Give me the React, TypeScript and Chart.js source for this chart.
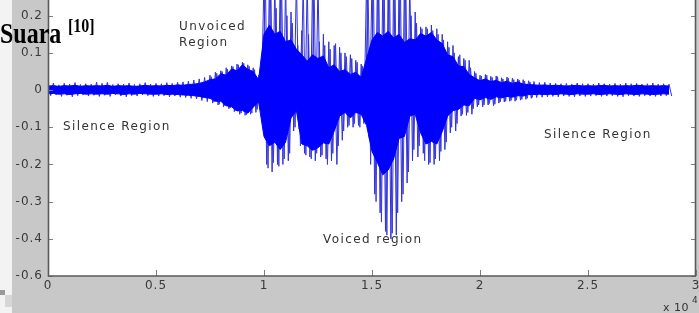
import React, { useEffect, useRef } from "react";
import { Chart, registerables } from "chart.js";

Chart.register(...registerables);

// envelope columns, one every 250 samples
const SAMPLE_STEP = 250;
// extra spike columns inside the speech burst, starting at this sample
const BURST_START = 7500;

const coreHi = [
  0.011, 0.012, 0.010, 0.012, 0.011, 0.013, 0.010, 0.012, 0.011, 0.012,
  0.011, 0.013, 0.010, 0.012, 0.011, 0.012, 0.010, 0.011, 0.013, 0.011,
  0.012, 0.011, 0.013, 0.012, 0.014, 0.013, 0.015, 0.016, 0.018, 0.022,
  0.028, 0.030, 0.044, 0.040, 0.057, 0.052, 0.068, 0.056, 0.050, 0.028,
  0.150, 0.175, 0.150, 0.158, 0.130, 0.135, 0.110, 0.095, 0.078, 0.095,
  0.085, 0.092, 0.060, 0.068, 0.050, 0.055, 0.042, 0.048, 0.034, 0.085,
  0.135, 0.155, 0.145, 0.158, 0.140, 0.150, 0.128, 0.138, 0.135, 0.152,
  0.145, 0.155, 0.135, 0.125, 0.095, 0.090, 0.065, 0.063, 0.042, 0.033,
  0.025, 0.030, 0.023, 0.026, 0.020, 0.024, 0.018, 0.022, 0.016, 0.015,
  0.014, 0.013, 0.014, 0.012, 0.013, 0.012, 0.011, 0.012, 0.013, 0.011,
  0.012, 0.011, 0.012, 0.013, 0.011, 0.012, 0.011, 0.012, 0.011, 0.013,
  0.012, 0.011, 0.012, 0.011, 0.012, 0.011,
];

const coreLo = [
  -0.010, -0.009, -0.011, -0.010, -0.012, -0.010, -0.009, -0.011, -0.010, -0.011,
  -0.010, -0.011, -0.009, -0.010, -0.012, -0.010, -0.011, -0.009, -0.010, -0.011,
  -0.011, -0.010, -0.012, -0.011, -0.012, -0.013, -0.014, -0.015, -0.017, -0.020,
  -0.022, -0.030, -0.030, -0.042, -0.045, -0.056, -0.055, -0.062, -0.046, -0.032,
  -0.125, -0.150, -0.140, -0.160, -0.140, -0.075, -0.055, -0.145, -0.150, -0.162,
  -0.155, -0.142, -0.145, -0.110, -0.070, -0.060, -0.075, -0.060, -0.065, -0.095,
  -0.165, -0.195, -0.228, -0.215, -0.185, -0.130, -0.125, -0.070, -0.065, -0.115,
  -0.145, -0.138, -0.145, -0.112, -0.070, -0.055, -0.052, -0.040, -0.042, -0.022,
  -0.026, -0.020, -0.025, -0.018, -0.021, -0.017, -0.019, -0.015, -0.016, -0.012,
  -0.012, -0.011, -0.012, -0.011, -0.012, -0.010, -0.011, -0.012, -0.010, -0.011,
  -0.011, -0.010, -0.012, -0.011, -0.010, -0.011, -0.012, -0.010, -0.011, -0.012,
  -0.010, -0.011, -0.012, -0.011, -0.010, -0.011,
];

const spikeHi = [
  0.016, 0.019, 0.014, 0.018, 0.016, 0.020, 0.015, 0.017, 0.016, 0.021,
  0.018, 0.021, 0.015, 0.017, 0.016, 0.019, 0.015, 0.017, 0.020, 0.016,
  0.018, 0.017, 0.020, 0.018, 0.021, 0.022, 0.024, 0.027, 0.030, 0.034,
  0.040, 0.048, 0.052, 0.060, 0.065, 0.070, 0.075, 0.068, 0.060, 0.040,
  0.300, 0.300, 0.300, 0.300, 0.300, 0.210, 0.300, 0.160, 0.300, 0.300,
  0.300, 0.150, 0.130, 0.120, 0.115, 0.100, 0.095, 0.080, 0.070, 0.300,
  0.300, 0.300, 0.300, 0.300, 0.300, 0.300, 0.300, 0.300, 0.210, 0.170,
  0.170, 0.175, 0.165, 0.150, 0.130, 0.120, 0.090, 0.085, 0.080, 0.050,
  0.040, 0.042, 0.037, 0.038, 0.033, 0.035, 0.032, 0.030, 0.028, 0.025,
  0.023, 0.020, 0.021, 0.019, 0.018, 0.017, 0.018, 0.016, 0.019, 0.017,
  0.017, 0.016, 0.019, 0.017, 0.016, 0.018, 0.016, 0.019, 0.017, 0.018,
  0.016, 0.017, 0.019, 0.016, 0.017, 0.016,
];

const spikeLo = [
  -0.015, -0.013, -0.017, -0.014, -0.018, -0.015, -0.013, -0.016, -0.014, -0.017,
  -0.014, -0.017, -0.013, -0.016, -0.018, -0.015, -0.016, -0.013, -0.015, -0.017,
  -0.016, -0.015, -0.018, -0.016, -0.019, -0.020, -0.022, -0.024, -0.028, -0.031,
  -0.035, -0.040, -0.045, -0.050, -0.058, -0.065, -0.068, -0.065, -0.060, -0.042,
  -0.200, -0.220, -0.200, -0.200, -0.190, -0.110, -0.105, -0.170, -0.180, -0.190,
  -0.180, -0.185, -0.190, -0.200, -0.135, -0.100, -0.100, -0.095, -0.090, -0.130,
  -0.280, -0.330, -0.380, -0.400, -0.390, -0.300, -0.250, -0.190, -0.180, -0.170,
  -0.200, -0.200, -0.190, -0.160, -0.115, -0.110, -0.070, -0.068, -0.065, -0.045,
  -0.045, -0.040, -0.042, -0.035, -0.032, -0.030, -0.030, -0.027, -0.025, -0.022,
  -0.020, -0.019, -0.018, -0.017, -0.018, -0.016, -0.017, -0.018, -0.016, -0.017,
  -0.016, -0.015, -0.017, -0.016, -0.015, -0.017, -0.018, -0.015, -0.016, -0.017,
  -0.015, -0.016, -0.017, -0.016, -0.015, -0.016,
];

const burstHi = [
  0.036, 0.045, 0.050, 0.056, 0.063, 0.068, 0.072, 0.064, 0.055, 0.035,
  0.300, 0.300, 0.220, 0.300, 0.200, 0.180, 0.120, 0.300, 0.150, 0.300,
  0.130, 0.120, 0.110, 0.125, 0.100, 0.090, 0.085, 0.075, 0.065, 0.300,
  0.300, 0.300, 0.300, 0.300, 0.300, 0.300, 0.300, 0.200, 0.180, 0.165,
  0.165, 0.160, 0.150, 0.135, 0.115, 0.100, 0.095, 0.080, 0.060, 0.045,
  0.038, 0.040, 0.034, 0.036, 0.030, 0.032, 0.028, 0.027, 0.024, 0.022,
];

const burstLo = [
  -0.032, -0.038, -0.042, -0.048, -0.055, -0.062, -0.066, -0.062, -0.052, -0.038,
  -0.210, -0.195, -0.205, -0.185, -0.170, -0.100, -0.150, -0.175, -0.185, -0.170,
  -0.175, -0.200, -0.170, -0.150, -0.110, -0.095, -0.090, -0.100, -0.085, -0.200,
  -0.300, -0.355, -0.390, -0.385, -0.330, -0.280, -0.220, -0.160, -0.150, -0.190,
  -0.195, -0.185, -0.165, -0.140, -0.100, -0.090, -0.065, -0.060, -0.050, -0.040,
  -0.040, -0.036, -0.038, -0.032, -0.030, -0.028, -0.027, -0.025, -0.022, -0.020,
];

const xTickValues = [0, 5000, 10000, 15000, 20000, 25000, 30000];
const xTickLabels = ["0", "0.5", "1", "1.5", "2", "2.5", "3"];
const yTickValues = [-0.5, -0.4, -0.3, -0.2, -0.1, 0, 0.1, 0.2];
const yTickLabels = ["-0.6", "-0.4", "-0.3", "-0.2", "-0.1", "0", "0.1", "0.2"];

const regionLabels = [
  { text: "Unvoiced", x: 6065, y: 0.169 },
  { text: "Region", x: 6065, y: 0.126 },
  { text: "Silence Region", x: 694, y: -0.1 },
  { text: "Silence Region", x: 22963, y: -0.121 },
  { text: "Voiced region", x: 12731, y: -0.404 },
];

const decorPlugin = {
  id: "decor",
  beforeDraw(chart: any) {
    const { ctx, chartArea: a } = chart;
    ctx.save();
    ctx.fillStyle = "#ffffff";
    ctx.fillRect(a.left, a.top, a.right - a.left, a.bottom - a.top);
    ctx.restore();
    (ctx as any).letterSpacing = "1px";
  },
  afterDraw(chart: any) {
    const { ctx, chartArea: a } = chart;
    const xs = chart.scales.x;
    const ys = chart.scales.y;
    ctx.save();
    // inward tick marks
    ctx.strokeStyle = "#808080";
    ctx.lineWidth = 1;
    ctx.beginPath();
    yTickValues.forEach((v) => {
      const py = Math.round(ys.getPixelForValue(v)) + 0.5;
      ctx.moveTo(a.left, py);
      ctx.lineTo(a.left + 5, py);
      ctx.moveTo(a.right - 5, py);
      ctx.lineTo(a.right, py);
    });
    xTickValues.forEach((v) => {
      const px = Math.round(xs.getPixelForValue(v)) + 0.5;
      ctx.moveTo(px, a.bottom);
      ctx.lineTo(px, a.bottom - 6);
    });
    ctx.stroke();
    // frame
    ctx.strokeStyle = "#5a5a5a";
    ctx.lineWidth = 1.6;
    ctx.beginPath();
    ctx.moveTo(a.left + 0.5, a.top);
    ctx.lineTo(a.left + 0.5, a.bottom);
    ctx.lineTo(a.right, a.bottom);
    ctx.moveTo(a.right - 0.5, a.top);
    ctx.lineTo(a.right - 0.5, a.bottom);
    ctx.stroke();

    // region annotations
    (ctx as any).letterSpacing = "1.4px";
    ctx.fillStyle = "#333333";
    ctx.font = '12px "DejaVu Sans"';
    ctx.textAlign = "left";
    ctx.textBaseline = "middle";
    regionLabels.forEach((r) => {
      ctx.fillText(r.text, xs.getPixelForValue(r.x), ys.getPixelForValue(r.y));
    });

    // exponent label
    (ctx as any).letterSpacing = "0.5px";
    ctx.fillStyle = "#333333";
    ctx.textBaseline = "alphabetic";
    ctx.font = '11px "DejaVu Sans"';
    ctx.fillText("x 10", 663, 311);
    ctx.font = '9px "DejaVu Sans"';
    ctx.fillText("4", 692, 303);

    // title fragment
    (ctx as any).letterSpacing = "0px";
    ctx.fillStyle = "#000000";
    ctx.save();
    ctx.translate(0, 43);
    ctx.scale(1, 1.2);
    ctx.font = 'bold 24px "Liberation Serif"';
    ctx.fillText("Suara", 0, 0);
    ctx.restore();
    ctx.save();
    ctx.translate(68, 32);
    ctx.scale(1, 1.2);
    ctx.font = 'bold 16px "Liberation Serif"';
    ctx.fillText("[10]", 0, 0);
    ctx.restore();
    ctx.restore();
  },
};

export default function App() {
  const canvasRef = useRef<HTMLCanvasElement | null>(null);

  useEffect(() => {
    const canvas = canvasRef.current;
    if (!canvas) return;

    const coreHiPts = coreHi.map((v, i) => ({ x: i * SAMPLE_STEP, y: v }));
    const coreLoPts = coreLo.map((v, i) => ({ x: i * SAMPLE_STEP, y: v }));
    const spikePts: { x: number; y: number }[] = [];
    spikeHi.forEach((v, i) => {
      spikePts.push({ x: i * SAMPLE_STEP, y: v });
      spikePts.push({ x: i * SAMPLE_STEP + SAMPLE_STEP / 2, y: spikeLo[i] });
    });
    const burstPts: { x: number; y: number }[] = [];
    burstHi.forEach((v, i) => {
      burstPts.push({ x: BURST_START + i * SAMPLE_STEP + SAMPLE_STEP / 4, y: v });
      burstPts.push({ x: BURST_START + i * SAMPLE_STEP + (3 * SAMPLE_STEP) / 4, y: burstLo[i] });
    });

    const chart = new Chart(canvas, {
      type: "line",
      data: {
        datasets: [
          {
            data: coreHiPts,
            borderColor: "#0000ff",
            backgroundColor: "#0000ff",
            borderWidth: 1,
            pointRadius: 0,
            tension: 0,
            fill: "+1",
          },
          {
            data: coreLoPts,
            borderColor: "#0000ff",
            backgroundColor: "#0000ff",
            borderWidth: 1,
            pointRadius: 0,
            tension: 0,
            fill: false,
          },
          {
            data: spikePts,
            borderColor: "#3030e0",
            borderWidth: 1,
            pointRadius: 0,
            tension: 0,
            fill: false,
          },
          {
            data: burstPts,
            borderColor: "#3a3ad8",
            borderWidth: 1,
            pointRadius: 0,
            tension: 0,
            fill: false,
          },
        ],
      },
      options: {
        animation: false,
        responsive: false,
        devicePixelRatio: 1,
        layout: { padding: { left: 0, right: 3, top: 0, bottom: 0 } },
        plugins: {
          legend: { display: false },
          tooltip: { enabled: false },
        },
        scales: {
          x: {
            type: "linear",
            min: 0,
            max: 30000,
            grid: { display: false, drawTicks: false },
            border: { display: false },
            afterBuildTicks: (s: any) => {
              s.ticks = xTickValues.map((v) => ({ value: v }));
            },
            afterFit: (s: any) => {
              s.height = 37;
              s.paddingLeft = 0;
              s.paddingRight = 0;
            },
            ticks: {
              autoSkip: false,
              maxRotation: 0,
              padding: 3,
              color: "#3a3a3a",
              font: { family: "DejaVu Sans", size: 12 },
              callback: (_v: any, i: number) => xTickLabels[i],
            },
          },
          y: {
            type: "linear",
            min: -0.5,
            max: 0.2423,
            grid: { display: false, drawTicks: false },
            border: { display: false },
            afterBuildTicks: (s: any) => {
              s.ticks = yTickValues.map((v) => ({ value: v }));
            },
            afterFit: (s: any) => {
              s.width = 48;
              s.paddingTop = 0;
              s.paddingBottom = 0;
            },
            ticks: {
              autoSkip: false,
              padding: 5,
              color: "#3a3a3a",
              font: { family: "DejaVu Sans", size: 12 },
              callback: (_v: any, i: number) => yTickLabels[i],
            },
          },
        },
      },
      plugins: [decorPlugin],
    });

    return () => chart.destroy();
  }, []);

  return (
    <div
      style={{
        position: "fixed",
        left: 0,
        top: 0,
        width: 699,
        height: 313,
        background: "linear-gradient(to right, #f3f3f3 0px, #f3f3f3 12px, #c8c8c8 12px, #c8c8c8 100%)",
        overflow: "hidden",
      }}
    >
      <div style={{ position: "absolute", left: 0, top: 290, width: 5, height: 5, background: "#9a9a9a" }} />
      <div style={{ position: "absolute", left: 5, top: 295, width: 7, height: 12, background: "#d6d6d6" }} />
      <canvas
        ref={canvasRef}
        width={699}
        height={313}
        style={{ position: "absolute", left: 0, top: 0, width: 699, height: 313 }}
      />
    </div>
  );
}
